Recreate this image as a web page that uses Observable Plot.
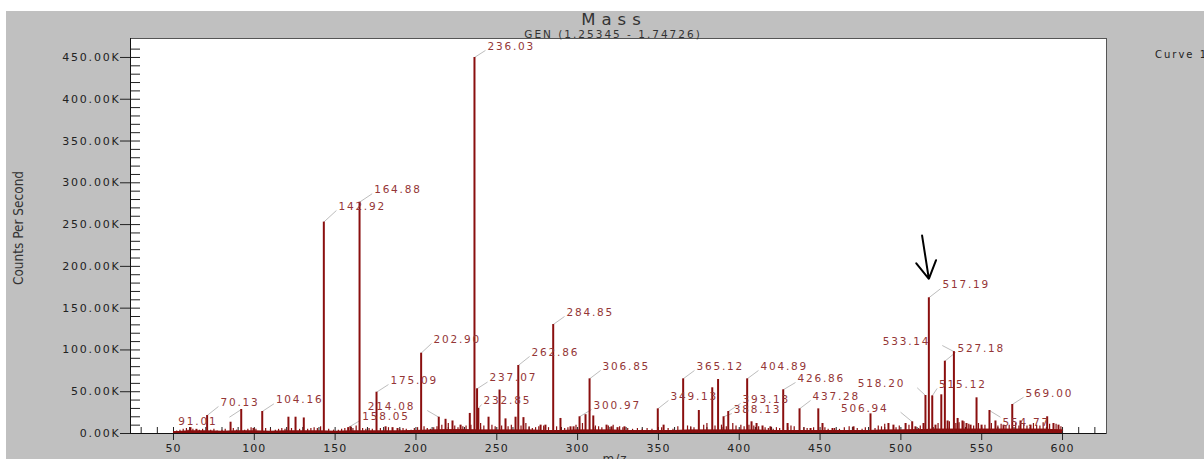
<!DOCTYPE html>
<html><head><meta charset="utf-8">
<script src="https://cdn.jsdelivr.net/npm/d3@7"></script>
<script src="https://cdn.jsdelivr.net/npm/@observablehq/plot@0.6"></script>
<style>
html,body{margin:0;padding:0;background:#fff;overflow:hidden;width:1204px;height:459px}
#bg{position:absolute;left:6px;top:11px;width:1198px;height:448px;background:#c0c0c0;overflow:hidden;font-family:"DejaVu Sans",sans-serif;color:#333}
#chart{position:absolute;left:0;top:0}
.t{position:absolute;white-space:pre}
#title{left:608px;top:2px;transform:translateX(-50%);font-size:16.5px;line-height:13px;letter-spacing:6px;color:#333}
#subtitle{left:607px;top:18px;transform:translateX(-50%);font-size:10.5px;line-height:10px;letter-spacing:2px;color:#333}
#curve{left:1149px;top:38px;font-size:10px;line-height:12px;letter-spacing:2px;color:#222}
#ylabel{left:12px;top:217px;transform:translate(-50%,-50%) rotate(-90deg);font-family:"DejaVu Sans Condensed","DejaVu Sans",sans-serif;font-stretch:condensed;font-size:13.5px;line-height:14px;color:#333}
#xlabel{left:609px;top:442px;transform:translateX(-50%);font-size:12px;line-height:12px;letter-spacing:1px;color:#333}
</style>
</head><body>
<div id="bg">
  <div id="chart"></div>
  <div class="t" id="title">Mass</div>
  <div class="t" id="subtitle">GEN (1.25345 - 1.74726)</div>
  <div class="t" id="curve">Curve 1</div>
  <div class="t" id="ylabel">Counts Per Second</div>
  <div class="t" id="xlabel">m/z</div>
</div>
<script>
// ---- data (m/z, intensity in thousands of counts per second) ----
const peaks = [[60.5,7],[64.2,5],[70.8,21.5],[85.3,13.5],[91.9,28.7],[99.5,6],[104.9,26.3],[121.1,19.5],[125.5,19.5],[130.6,18.6],
  [143.0,253],[158.05,7],[159.5,8],[165.1,276.8],[175.6,49.4],[181.2,8],[185.5,7],[188.6,6],[203.2,96.1],[214.1,19.5],
  [218.3,17],[222.6,15],[227.6,10],[233.3,24],[236.2,450],[237.8,53.5],[238.6,30],[244.9,19.5],[251.7,52],[255.4,17.5],
  [261.6,19.5],[263.3,81.4],[266.5,19],[277.1,10],[280.1,10],[284.9,130.4],[289.4,18],[295.6,8],[297.5,8],[301.2,20],
  [304.9,22.5],[307.4,65.4],[309.7,21],[317.9,10],[321.0,8],[324.7,7],[329.0,8],[349.6,29.5],[353.2,10],[365.3,65.4],
  [375.0,27.5],[383.3,54.7],[386.9,64.6],[390.3,20],[393.2,26.3],[404.9,65.4],[407.6,14],[410.7,12],[414.4,9],[419.3,8],
  [427.2,52.3],[429.9,12],[437.3,29.5],[444.1,6],[448.9,29.5],[451.5,12],[457.7,6],[470.7,8],[481.2,23.5],[492.3,12],
  [495.4,10],[502.9,12],[507.0,14],[509.0,8],[514.0,12],[515.2,45.5],[517.3,162.4],[519.4,45],[521.4,10],[525.0,46.3],
  [527.2,86.5],[528.9,15],[532.8,98],[535.1,18],[538.1,15],[540.6,12],[543.1,10],[546.8,42.7],[549.9,10],[554.8,27.5],
  [558.5,15],[563.5,10],[568.9,34.7],[574.0,15],[580.2,10],[590.5,20],[594.4,12],[597.5,10]];

const noise = [[52,3],[54,4],[56,5],[58,6],[59,4],[62,5],[66,4],[68,5],[73,4],[75,5],[77,3],[80,4],[82,5],[87,6],[89,4],
  [94,4],[96,5],[98,7],[101,5],[107,6],[110,5],[113,4],[115,5],[117,6],[119,5],[123,6],[128,5],[133,5],[135,6],[137,7],
  [139,6],[141,8],[146,5],[149,4],[152,4],[154,5],[156,6],[161,6],[163,9],[167,6],[169,5],[171,6],[173,5],[178,6],[183,7],
  [190,5],[192,6],[194,5],[197,4],[199,6],[201,7],[205,8],[207,6],[209,5],[211,7],[213,8],[216,10],[220,12],[224,9],[226,7],
  [229,8],[231,9],[234,10],[240,12],[242,9],[247,10],[249,8],[253,9],[257,8],[259,10],[265,9],[268,12],[270,8],[272,6],
  [274,7],[276,8],[279,9],[282,7],[287,8],[292,6],[294,7],[299,10],[303,12],[311,9],[313,8],[315,7],[319,9],[322,10],
  [326,8],[328,7],[331,6],[334,5],[337,6],[340,5],[343,6],[346,5],[352,7],[356,6],[359,5],[362,8],[368,9],[370,8],[372,7],
  [378,10],[380,12],[385,9],[389,10],[392,8],[396,12],[398,9],[401,10],[403,8],[406,10],[409,9],[412,8],[416,7],[418,6],
  [421,5],[423,7],[425,6],[432,9],[434,8],[440,7],[442,6],[446,7],[453,7],[455,5],[459,6],[462,5],[465,7],[468,8],[473,6],
  [476,5],[478,7],[484,6],[486,9],[488,8],[490,11],[497,7],[499,9],[505,10],[511,6],[512,9],[523,12],[530,14],[534,12],
  [536,13],[539,14],[542,11],[545,9],[548,12],[552,10],[556,12],[560,9],[562,11],[565,9],[567,10],[571,12],[573,9],
  [576,11],[578,9],[582,12],[584,10],[586,9],[588,13],[592,11],[596,11],[599,8]];

const baseline = [[50,2],[60,3],[70,3],[80,2.5],[90,3],[100,3],[110,2.5],[120,3],[130,3],[140,3],[150,2.5],[160,3],
  [170,3],[180,3],[190,3],[200,3.5],[210,4],[220,4.5],[230,4.5],[240,4],[250,4],[260,4],[270,4],[280,3.5],[290,3.5],
  [300,4],[310,4],[320,4],[330,3.5],[340,3.5],[350,3.5],[360,3.5],[370,4],[380,4],[390,4],[400,4],[410,4],[420,3.5],
  [430,3.5],[440,3.5],[450,3.5],[460,3.5],[470,3.5],[480,3.5],[490,4],[500,4],[510,4.5],[520,5],[530,5],[540,5],
  [550,5],[560,5],[570,5],[580,5],[590,5],[600,4]];

// label text, peak m/z, peak K, label anchor m/z, label anchor K, side
const peakLabels = [
  ["236.03",236.2,450,243.0,458.4,"R"],["164.88",165.1,276.8,172.9,286.9,"R"],["142.92",143.0,253,150.8,266.9,"R"],
  ["202.90",203.2,96.1,209.6,107.7,"R"],["175.09",175.6,49.4,183.0,58.6,"R"],["214.08",214.1,19.5,207.0,27.5,"L"],
  ["158.05",158.05,7,165.5,15.6,"R"],["104.16",104.9,26.3,112.1,35.5,"R"],["70.13",70.8,21.5,77.8,32.3,"R"],
  ["91.01",91.9,28.7,84.6,19.5,"L"],["237.07",237.8,53.5,244.3,61.6,"R"],["232.85",237.5,27.5,240.6,34.7,"R"],
  ["262.86",263.3,81.4,270.3,92.2,"R"],["284.85",284.9,130.4,291.9,140.0,"R"],["306.85",307.4,65.4,314.2,75.4,"R"],
  ["300.97",301.2,20,308.6,28.7,"R"],["349.13",349.6,29.5,356.2,39.5,"R"],["365.12",365.3,65.4,372.3,75.4,"R"],
  ["388.13",390.3,20,395.4,23.9,"R"],["393.13",393.2,26.3,400.8,35.9,"R"],["404.89",404.9,65.4,411.9,75.4,"R"],
  ["426.86",427.2,52.3,434.8,61.0,"R"],["437.28",437.3,29.5,444.1,39.5,"R"],["506.94",507.0,14,499.8,25.5,"L"],
  ["518.20",515.2,45.5,510.1,54.7,"L"],["533.14",532.8,98,525.6,105.3,"L"],["527.18",527.2,86.5,533.8,96.9,"R"],
  ["517.19",517.3,162.4,524.5,173.2,"R"],["515.12",519.4,45,522.4,53.9,"R"],["554.77",554.8,27.5,561.6,19.5,"R"],
  ["569.00",568.9,34.7,575.9,43.4,"R"]];

// arrow annotation: tail and tip (m/z, K)
const arrowTail = [513.2, 235.8];
const arrowTip = [517.3, 185.1];

const xTicks = [50,100,150,200,250,300,350,400,450,500,550,600];
const yTicks = [0,50,100,150,200,250,300,350,400,450];
const xDomain = [23.4, 627.2];
const yDomain = [0, 472.7];

// ---- chart ----
const peakColor = "#8a0f0f";
const labelColor = "#943636";
const xMinor = d3.range(30, 621, 10).filter(v => !xTicks.includes(v));
const yMinor = d3.range(10, 461, 10).filter(v => !yTicks.includes(v));
const labels = peakLabels.map(([text, pm, pk, em, ek, side]) => ({text, pm, pk, em, ek, side, down: ek < pk}));
const textOpts = {x: "em", y: "ek", text: "text", fontSize: 10.5, fill: labelColor};

const chart = Plot.plot({
  width: 1198, height: 448,
  marginTop: 27, marginBottom: 26, marginLeft: 124, marginRight: 98,
  style: {background: "transparent", overflow: "visible", fontFamily: "DejaVu Sans, sans-serif"},
  x: {domain: xDomain, axis: null},
  y: {domain: yDomain, axis: null},
  marks: [
    Plot.frame({fill: "white", stroke: "#555"}),
    // minor / major ticks
    Plot.ruleX(xMinor, {x: d => d, y1: 0, y2: 0, insetTop: -6, stroke: "#222"}),
    Plot.ruleX(xTicks, {x: d => d, y1: 0, y2: 0, insetTop: -6, insetBottom: -7, stroke: "#222"}),
    Plot.ruleY(yMinor, {y: d => d, x1: xDomain[0], x2: xDomain[0], insetRight: -10, stroke: "#222"}),
    Plot.ruleY(yTicks, {y: d => d, x1: xDomain[0], x2: xDomain[0], insetLeft: -10, insetRight: -10, stroke: "#222"}),
    // leader lines
    Plot.link(labels, {x1: "pm", y1: "pk", x2: "em", y2: "ek", stroke: "#bdbdbd", strokeWidth: 1}),
    // spectrum
    Plot.areaY(baseline, {x: d => d[0], y: d => d[1], fill: peakColor}),
    Plot.lineY(baseline, {x: d => d[0], y: d => d[1], stroke: peakColor, strokeWidth: 1.2}),
    Plot.ruleX(noise, {x: d => d[0], y1: 0, y2: d => d[1], stroke: peakColor, strokeWidth: 1.2}),
    Plot.ruleX(peaks, {x: d => d[0], y1: 0, y2: d => d[1], stroke: peakColor, strokeWidth: 2}),
    // axis lines
    Plot.ruleX([xDomain[0]], {stroke: "#111"}),
    Plot.ruleY([0], {stroke: "#111"}),
    // tick labels (text marks 0 and 1)
    Plot.text(yTicks, {x: xDomain[0], y: d => d, text: d => d.toFixed(2) + "K", textAnchor: "end", dx: -10, fontSize: 11, fill: "#222"}),
    Plot.text(xTicks, {x: d => d, y: 0, dy: 15, text: d => String(d), fontSize: 11, fill: "#222"}),
    // peak labels (text marks 2..5)
    Plot.text(labels.filter(d => d.side === "R" && !d.down), {...textOpts, textAnchor: "start", dx: 2, dy: -4}),
    Plot.text(labels.filter(d => d.side === "R" && d.down), {...textOpts, textAnchor: "start", dx: 2, dy: 5}),
    Plot.text(labels.filter(d => d.side === "L" && !d.down), {...textOpts, textAnchor: "end", dx: -12, dy: -4}),
    Plot.text(labels.filter(d => d.side === "L" && d.down), {...textOpts, textAnchor: "end", dx: -12, dy: 4}),
    // arrow annotation (start extended and inset so the head keeps its size)
    Plot.arrow([{tail: arrowTail, tip: arrowTip}], {
      x1: d => 2 * d.tail[0] - d.tip[0], y1: d => 2 * d.tail[1] - d.tip[1],
      x2: d => d.tip[0], y2: d => d.tip[1],
      insetStart: 42, stroke: "black", strokeWidth: 2, headLength: 15, headAngle: 60
    })
  ]
});
// letter spacing for the wide instrument-style lettering
const textGroups = d3.select(chart).selectAll('g[aria-label="text"]').nodes();
const spacing = [1.8, 1, 1.8, 1.8, 1.8, 1.8];
textGroups.forEach((g, i) => g.style.letterSpacing = (spacing[i] ?? 1.8) + "px");
document.getElementById("chart").appendChild(chart);
</script>
</body></html>
